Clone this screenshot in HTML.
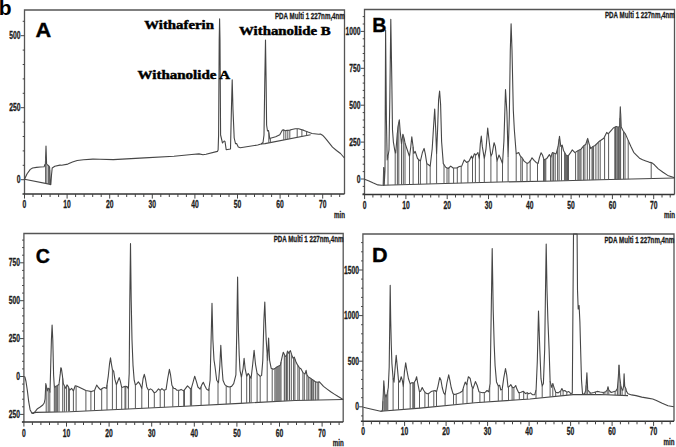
<!DOCTYPE html>
<html><head><meta charset="utf-8"><style>
html,body{margin:0;padding:0;background:#fff;width:676px;height:447px;overflow:hidden}
svg{display:block}
.n{font-family:"Liberation Sans",sans-serif;font-weight:bold;fill:#1a1a1a;stroke:#1a1a1a;stroke-width:0.3}
.L{font-family:"Liberation Sans",sans-serif;font-weight:bold;font-size:19.6px;fill:#000;stroke:#000;stroke-width:0.35}
.w{font-family:"Liberation Serif",serif;font-weight:bold;font-size:12.5px;fill:#000;stroke:#000;stroke-width:0.45}
.t{fill:none;stroke:#464646;stroke-width:1.1;stroke-linejoin:round}
.h{stroke:#5a5a5a;stroke-width:1}
</style></head><body>
<svg width="676" height="447" viewBox="0 0 676 447">
<text x="-1.2" y="14.9" style="font-family:'Liberation Sans',sans-serif;font-weight:bold;font-size:21px;fill:#000">b</text>
<path d="M24.5,194.0 V10.0 H344.5 V194.0" fill="none" stroke="#555" stroke-width="1.3"/>
<line x1="22.5" y1="194.0" x2="344.5" y2="194.0" stroke="#333" stroke-width="1.4"/>
<line x1="24.5" y1="194.0" x2="24.5" y2="198.6" stroke="#444" stroke-width="1"/>
<line x1="33.0" y1="194.0" x2="33.0" y2="197.0" stroke="#444" stroke-width="1"/>
<line x1="41.5" y1="194.0" x2="41.5" y2="197.0" stroke="#444" stroke-width="1"/>
<line x1="50.1" y1="194.0" x2="50.1" y2="197.0" stroke="#444" stroke-width="1"/>
<line x1="58.6" y1="194.0" x2="58.6" y2="197.0" stroke="#444" stroke-width="1"/>
<line x1="67.1" y1="194.0" x2="67.1" y2="198.6" stroke="#444" stroke-width="1"/>
<line x1="75.6" y1="194.0" x2="75.6" y2="197.0" stroke="#444" stroke-width="1"/>
<line x1="84.1" y1="194.0" x2="84.1" y2="197.0" stroke="#444" stroke-width="1"/>
<line x1="92.7" y1="194.0" x2="92.7" y2="197.0" stroke="#444" stroke-width="1"/>
<line x1="101.2" y1="194.0" x2="101.2" y2="197.0" stroke="#444" stroke-width="1"/>
<line x1="109.7" y1="194.0" x2="109.7" y2="198.6" stroke="#444" stroke-width="1"/>
<line x1="118.2" y1="194.0" x2="118.2" y2="197.0" stroke="#444" stroke-width="1"/>
<line x1="126.7" y1="194.0" x2="126.7" y2="197.0" stroke="#444" stroke-width="1"/>
<line x1="135.3" y1="194.0" x2="135.3" y2="197.0" stroke="#444" stroke-width="1"/>
<line x1="143.8" y1="194.0" x2="143.8" y2="197.0" stroke="#444" stroke-width="1"/>
<line x1="152.3" y1="194.0" x2="152.3" y2="198.6" stroke="#444" stroke-width="1"/>
<line x1="160.8" y1="194.0" x2="160.8" y2="197.0" stroke="#444" stroke-width="1"/>
<line x1="169.3" y1="194.0" x2="169.3" y2="197.0" stroke="#444" stroke-width="1"/>
<line x1="177.9" y1="194.0" x2="177.9" y2="197.0" stroke="#444" stroke-width="1"/>
<line x1="186.4" y1="194.0" x2="186.4" y2="197.0" stroke="#444" stroke-width="1"/>
<line x1="194.9" y1="194.0" x2="194.9" y2="198.6" stroke="#444" stroke-width="1"/>
<line x1="203.4" y1="194.0" x2="203.4" y2="197.0" stroke="#444" stroke-width="1"/>
<line x1="211.9" y1="194.0" x2="211.9" y2="197.0" stroke="#444" stroke-width="1"/>
<line x1="220.5" y1="194.0" x2="220.5" y2="197.0" stroke="#444" stroke-width="1"/>
<line x1="229.0" y1="194.0" x2="229.0" y2="197.0" stroke="#444" stroke-width="1"/>
<line x1="237.5" y1="194.0" x2="237.5" y2="198.6" stroke="#444" stroke-width="1"/>
<line x1="246.0" y1="194.0" x2="246.0" y2="197.0" stroke="#444" stroke-width="1"/>
<line x1="254.5" y1="194.0" x2="254.5" y2="197.0" stroke="#444" stroke-width="1"/>
<line x1="263.1" y1="194.0" x2="263.1" y2="197.0" stroke="#444" stroke-width="1"/>
<line x1="271.6" y1="194.0" x2="271.6" y2="197.0" stroke="#444" stroke-width="1"/>
<line x1="280.1" y1="194.0" x2="280.1" y2="198.6" stroke="#444" stroke-width="1"/>
<line x1="288.6" y1="194.0" x2="288.6" y2="197.0" stroke="#444" stroke-width="1"/>
<line x1="297.1" y1="194.0" x2="297.1" y2="197.0" stroke="#444" stroke-width="1"/>
<line x1="305.7" y1="194.0" x2="305.7" y2="197.0" stroke="#444" stroke-width="1"/>
<line x1="314.2" y1="194.0" x2="314.2" y2="197.0" stroke="#444" stroke-width="1"/>
<line x1="322.7" y1="194.0" x2="322.7" y2="198.6" stroke="#444" stroke-width="1"/>
<line x1="331.2" y1="194.0" x2="331.2" y2="197.0" stroke="#444" stroke-width="1"/>
<line x1="339.7" y1="194.0" x2="339.7" y2="197.0" stroke="#444" stroke-width="1"/>
<text x="22.62" y="208.00" class="n" font-size="10.4" textLength="3.75" lengthAdjust="spacingAndGlyphs">0</text>
<text x="63.35" y="208.00" class="n" font-size="10.4" textLength="7.50" lengthAdjust="spacingAndGlyphs">10</text>
<text x="105.95" y="208.00" class="n" font-size="10.4" textLength="7.50" lengthAdjust="spacingAndGlyphs">20</text>
<text x="148.55" y="208.00" class="n" font-size="10.4" textLength="7.50" lengthAdjust="spacingAndGlyphs">30</text>
<text x="191.15" y="208.00" class="n" font-size="10.4" textLength="7.50" lengthAdjust="spacingAndGlyphs">40</text>
<text x="233.75" y="208.00" class="n" font-size="10.4" textLength="7.50" lengthAdjust="spacingAndGlyphs">50</text>
<text x="276.35" y="208.00" class="n" font-size="10.4" textLength="7.50" lengthAdjust="spacingAndGlyphs">60</text>
<text x="318.95" y="208.00" class="n" font-size="10.4" textLength="7.50" lengthAdjust="spacingAndGlyphs">70</text>
<text x="334.00" y="217.80" class="n" font-size="9.3" textLength="11.00" lengthAdjust="spacingAndGlyphs">min</text>
<line x1="20.7" y1="179.7" x2="24.5" y2="179.7" stroke="#444" stroke-width="1"/>
<line x1="22.7" y1="165.3" x2="24.5" y2="165.3" stroke="#444" stroke-width="1"/>
<line x1="22.7" y1="150.9" x2="24.5" y2="150.9" stroke="#444" stroke-width="1"/>
<line x1="22.7" y1="136.5" x2="24.5" y2="136.5" stroke="#444" stroke-width="1"/>
<line x1="22.7" y1="122.1" x2="24.5" y2="122.1" stroke="#444" stroke-width="1"/>
<line x1="20.7" y1="107.7" x2="24.5" y2="107.7" stroke="#444" stroke-width="1"/>
<line x1="22.7" y1="93.3" x2="24.5" y2="93.3" stroke="#444" stroke-width="1"/>
<line x1="22.7" y1="78.9" x2="24.5" y2="78.9" stroke="#444" stroke-width="1"/>
<line x1="22.7" y1="64.5" x2="24.5" y2="64.5" stroke="#444" stroke-width="1"/>
<line x1="22.7" y1="50.1" x2="24.5" y2="50.1" stroke="#444" stroke-width="1"/>
<line x1="20.7" y1="35.7" x2="24.5" y2="35.7" stroke="#444" stroke-width="1"/>
<line x1="22.7" y1="21.3" x2="24.5" y2="21.3" stroke="#444" stroke-width="1"/>
<text x="16.85" y="183.30" class="n" font-size="10.4" textLength="3.75" lengthAdjust="spacingAndGlyphs">0</text>
<text x="9.35" y="111.30" class="n" font-size="10.4" textLength="11.25" lengthAdjust="spacingAndGlyphs">250</text>
<text x="9.35" y="39.30" class="n" font-size="10.4" textLength="11.25" lengthAdjust="spacingAndGlyphs">500</text>
<text x="275.00" y="18.80" class="n" font-size="9.2" textLength="69.80" lengthAdjust="spacingAndGlyphs">PDA Multi 1 227nm,4nm</text>
<text x="35.6" y="36.8" class="L" textLength="15.7" lengthAdjust="spacingAndGlyphs">A</text>
<path d="M364.5,194.5 V9.5 H674.5 V194.5" fill="none" stroke="#555" stroke-width="1.3"/>
<line x1="362.5" y1="194.5" x2="674.5" y2="194.5" stroke="#333" stroke-width="1.4"/>
<line x1="364.6" y1="194.5" x2="364.6" y2="199.1" stroke="#444" stroke-width="1"/>
<line x1="372.9" y1="194.5" x2="372.9" y2="197.5" stroke="#444" stroke-width="1"/>
<line x1="381.1" y1="194.5" x2="381.1" y2="197.5" stroke="#444" stroke-width="1"/>
<line x1="389.4" y1="194.5" x2="389.4" y2="197.5" stroke="#444" stroke-width="1"/>
<line x1="397.6" y1="194.5" x2="397.6" y2="197.5" stroke="#444" stroke-width="1"/>
<line x1="405.9" y1="194.5" x2="405.9" y2="199.1" stroke="#444" stroke-width="1"/>
<line x1="414.2" y1="194.5" x2="414.2" y2="197.5" stroke="#444" stroke-width="1"/>
<line x1="422.4" y1="194.5" x2="422.4" y2="197.5" stroke="#444" stroke-width="1"/>
<line x1="430.7" y1="194.5" x2="430.7" y2="197.5" stroke="#444" stroke-width="1"/>
<line x1="438.9" y1="194.5" x2="438.9" y2="197.5" stroke="#444" stroke-width="1"/>
<line x1="447.2" y1="194.5" x2="447.2" y2="199.1" stroke="#444" stroke-width="1"/>
<line x1="455.5" y1="194.5" x2="455.5" y2="197.5" stroke="#444" stroke-width="1"/>
<line x1="463.7" y1="194.5" x2="463.7" y2="197.5" stroke="#444" stroke-width="1"/>
<line x1="472.0" y1="194.5" x2="472.0" y2="197.5" stroke="#444" stroke-width="1"/>
<line x1="480.2" y1="194.5" x2="480.2" y2="197.5" stroke="#444" stroke-width="1"/>
<line x1="488.5" y1="194.5" x2="488.5" y2="199.1" stroke="#444" stroke-width="1"/>
<line x1="496.8" y1="194.5" x2="496.8" y2="197.5" stroke="#444" stroke-width="1"/>
<line x1="505.0" y1="194.5" x2="505.0" y2="197.5" stroke="#444" stroke-width="1"/>
<line x1="513.3" y1="194.5" x2="513.3" y2="197.5" stroke="#444" stroke-width="1"/>
<line x1="521.5" y1="194.5" x2="521.5" y2="197.5" stroke="#444" stroke-width="1"/>
<line x1="529.8" y1="194.5" x2="529.8" y2="199.1" stroke="#444" stroke-width="1"/>
<line x1="538.1" y1="194.5" x2="538.1" y2="197.5" stroke="#444" stroke-width="1"/>
<line x1="546.3" y1="194.5" x2="546.3" y2="197.5" stroke="#444" stroke-width="1"/>
<line x1="554.6" y1="194.5" x2="554.6" y2="197.5" stroke="#444" stroke-width="1"/>
<line x1="562.8" y1="194.5" x2="562.8" y2="197.5" stroke="#444" stroke-width="1"/>
<line x1="571.1" y1="194.5" x2="571.1" y2="199.1" stroke="#444" stroke-width="1"/>
<line x1="579.4" y1="194.5" x2="579.4" y2="197.5" stroke="#444" stroke-width="1"/>
<line x1="587.6" y1="194.5" x2="587.6" y2="197.5" stroke="#444" stroke-width="1"/>
<line x1="595.9" y1="194.5" x2="595.9" y2="197.5" stroke="#444" stroke-width="1"/>
<line x1="604.1" y1="194.5" x2="604.1" y2="197.5" stroke="#444" stroke-width="1"/>
<line x1="612.4" y1="194.5" x2="612.4" y2="199.1" stroke="#444" stroke-width="1"/>
<line x1="620.7" y1="194.5" x2="620.7" y2="197.5" stroke="#444" stroke-width="1"/>
<line x1="628.9" y1="194.5" x2="628.9" y2="197.5" stroke="#444" stroke-width="1"/>
<line x1="637.2" y1="194.5" x2="637.2" y2="197.5" stroke="#444" stroke-width="1"/>
<line x1="645.4" y1="194.5" x2="645.4" y2="197.5" stroke="#444" stroke-width="1"/>
<line x1="653.7" y1="194.5" x2="653.7" y2="199.1" stroke="#444" stroke-width="1"/>
<line x1="662.0" y1="194.5" x2="662.0" y2="197.5" stroke="#444" stroke-width="1"/>
<line x1="670.2" y1="194.5" x2="670.2" y2="197.5" stroke="#444" stroke-width="1"/>
<text x="362.73" y="208.50" class="n" font-size="10.4" textLength="3.75" lengthAdjust="spacingAndGlyphs">0</text>
<text x="402.15" y="208.50" class="n" font-size="10.4" textLength="7.50" lengthAdjust="spacingAndGlyphs">10</text>
<text x="443.45" y="208.50" class="n" font-size="10.4" textLength="7.50" lengthAdjust="spacingAndGlyphs">20</text>
<text x="484.75" y="208.50" class="n" font-size="10.4" textLength="7.50" lengthAdjust="spacingAndGlyphs">30</text>
<text x="526.05" y="208.50" class="n" font-size="10.4" textLength="7.50" lengthAdjust="spacingAndGlyphs">40</text>
<text x="567.35" y="208.50" class="n" font-size="10.4" textLength="7.50" lengthAdjust="spacingAndGlyphs">50</text>
<text x="608.65" y="208.50" class="n" font-size="10.4" textLength="7.50" lengthAdjust="spacingAndGlyphs">60</text>
<text x="649.95" y="208.50" class="n" font-size="10.4" textLength="7.50" lengthAdjust="spacingAndGlyphs">70</text>
<text x="664.00" y="218.30" class="n" font-size="9.3" textLength="11.00" lengthAdjust="spacingAndGlyphs">min</text>
<line x1="362.7" y1="193.8" x2="364.5" y2="193.8" stroke="#444" stroke-width="1"/>
<line x1="362.7" y1="186.4" x2="364.5" y2="186.4" stroke="#444" stroke-width="1"/>
<line x1="360.7" y1="179.0" x2="364.5" y2="179.0" stroke="#444" stroke-width="1"/>
<line x1="362.7" y1="171.6" x2="364.5" y2="171.6" stroke="#444" stroke-width="1"/>
<line x1="362.7" y1="164.2" x2="364.5" y2="164.2" stroke="#444" stroke-width="1"/>
<line x1="362.7" y1="156.9" x2="364.5" y2="156.9" stroke="#444" stroke-width="1"/>
<line x1="362.7" y1="149.5" x2="364.5" y2="149.5" stroke="#444" stroke-width="1"/>
<line x1="360.7" y1="142.1" x2="364.5" y2="142.1" stroke="#444" stroke-width="1"/>
<line x1="362.7" y1="134.7" x2="364.5" y2="134.7" stroke="#444" stroke-width="1"/>
<line x1="362.7" y1="127.3" x2="364.5" y2="127.3" stroke="#444" stroke-width="1"/>
<line x1="362.7" y1="120.0" x2="364.5" y2="120.0" stroke="#444" stroke-width="1"/>
<line x1="362.7" y1="112.6" x2="364.5" y2="112.6" stroke="#444" stroke-width="1"/>
<line x1="360.7" y1="105.2" x2="364.5" y2="105.2" stroke="#444" stroke-width="1"/>
<line x1="362.7" y1="97.8" x2="364.5" y2="97.8" stroke="#444" stroke-width="1"/>
<line x1="362.7" y1="90.4" x2="364.5" y2="90.4" stroke="#444" stroke-width="1"/>
<line x1="362.7" y1="83.1" x2="364.5" y2="83.1" stroke="#444" stroke-width="1"/>
<line x1="362.7" y1="75.7" x2="364.5" y2="75.7" stroke="#444" stroke-width="1"/>
<line x1="360.7" y1="68.3" x2="364.5" y2="68.3" stroke="#444" stroke-width="1"/>
<line x1="362.7" y1="60.9" x2="364.5" y2="60.9" stroke="#444" stroke-width="1"/>
<line x1="362.7" y1="53.5" x2="364.5" y2="53.5" stroke="#444" stroke-width="1"/>
<line x1="362.7" y1="46.2" x2="364.5" y2="46.2" stroke="#444" stroke-width="1"/>
<line x1="362.7" y1="38.8" x2="364.5" y2="38.8" stroke="#444" stroke-width="1"/>
<line x1="360.7" y1="31.4" x2="364.5" y2="31.4" stroke="#444" stroke-width="1"/>
<line x1="362.7" y1="24.0" x2="364.5" y2="24.0" stroke="#444" stroke-width="1"/>
<line x1="362.7" y1="16.6" x2="364.5" y2="16.6" stroke="#444" stroke-width="1"/>
<text x="356.85" y="182.60" class="n" font-size="10.4" textLength="3.75" lengthAdjust="spacingAndGlyphs">0</text>
<text x="349.35" y="145.70" class="n" font-size="10.4" textLength="11.25" lengthAdjust="spacingAndGlyphs">250</text>
<text x="349.35" y="108.80" class="n" font-size="10.4" textLength="11.25" lengthAdjust="spacingAndGlyphs">500</text>
<text x="349.35" y="71.90" class="n" font-size="10.4" textLength="11.25" lengthAdjust="spacingAndGlyphs">750</text>
<text x="345.60" y="35.00" class="n" font-size="10.4" textLength="15.00" lengthAdjust="spacingAndGlyphs">1000</text>
<text x="605.00" y="18.30" class="n" font-size="9.2" textLength="69.80" lengthAdjust="spacingAndGlyphs">PDA Multi 1 227nm,4nm</text>
<text x="372.2" y="31.9" class="L">B</text>
<path d="M23.9,422.0 V233.5 H343.2 V422.0" fill="none" stroke="#555" stroke-width="1.3"/>
<line x1="21.9" y1="422.0" x2="343.2" y2="422.0" stroke="#333" stroke-width="1.4"/>
<line x1="23.9" y1="422.0" x2="23.9" y2="426.6" stroke="#444" stroke-width="1"/>
<line x1="32.4" y1="422.0" x2="32.4" y2="425.0" stroke="#444" stroke-width="1"/>
<line x1="40.9" y1="422.0" x2="40.9" y2="425.0" stroke="#444" stroke-width="1"/>
<line x1="49.5" y1="422.0" x2="49.5" y2="425.0" stroke="#444" stroke-width="1"/>
<line x1="58.0" y1="422.0" x2="58.0" y2="425.0" stroke="#444" stroke-width="1"/>
<line x1="66.5" y1="422.0" x2="66.5" y2="426.6" stroke="#444" stroke-width="1"/>
<line x1="75.0" y1="422.0" x2="75.0" y2="425.0" stroke="#444" stroke-width="1"/>
<line x1="83.5" y1="422.0" x2="83.5" y2="425.0" stroke="#444" stroke-width="1"/>
<line x1="92.1" y1="422.0" x2="92.1" y2="425.0" stroke="#444" stroke-width="1"/>
<line x1="100.6" y1="422.0" x2="100.6" y2="425.0" stroke="#444" stroke-width="1"/>
<line x1="109.1" y1="422.0" x2="109.1" y2="426.6" stroke="#444" stroke-width="1"/>
<line x1="117.6" y1="422.0" x2="117.6" y2="425.0" stroke="#444" stroke-width="1"/>
<line x1="126.1" y1="422.0" x2="126.1" y2="425.0" stroke="#444" stroke-width="1"/>
<line x1="134.7" y1="422.0" x2="134.7" y2="425.0" stroke="#444" stroke-width="1"/>
<line x1="143.2" y1="422.0" x2="143.2" y2="425.0" stroke="#444" stroke-width="1"/>
<line x1="151.7" y1="422.0" x2="151.7" y2="426.6" stroke="#444" stroke-width="1"/>
<line x1="160.2" y1="422.0" x2="160.2" y2="425.0" stroke="#444" stroke-width="1"/>
<line x1="168.7" y1="422.0" x2="168.7" y2="425.0" stroke="#444" stroke-width="1"/>
<line x1="177.3" y1="422.0" x2="177.3" y2="425.0" stroke="#444" stroke-width="1"/>
<line x1="185.8" y1="422.0" x2="185.8" y2="425.0" stroke="#444" stroke-width="1"/>
<line x1="194.3" y1="422.0" x2="194.3" y2="426.6" stroke="#444" stroke-width="1"/>
<line x1="202.8" y1="422.0" x2="202.8" y2="425.0" stroke="#444" stroke-width="1"/>
<line x1="211.3" y1="422.0" x2="211.3" y2="425.0" stroke="#444" stroke-width="1"/>
<line x1="219.9" y1="422.0" x2="219.9" y2="425.0" stroke="#444" stroke-width="1"/>
<line x1="228.4" y1="422.0" x2="228.4" y2="425.0" stroke="#444" stroke-width="1"/>
<line x1="236.9" y1="422.0" x2="236.9" y2="426.6" stroke="#444" stroke-width="1"/>
<line x1="245.4" y1="422.0" x2="245.4" y2="425.0" stroke="#444" stroke-width="1"/>
<line x1="253.9" y1="422.0" x2="253.9" y2="425.0" stroke="#444" stroke-width="1"/>
<line x1="262.5" y1="422.0" x2="262.5" y2="425.0" stroke="#444" stroke-width="1"/>
<line x1="271.0" y1="422.0" x2="271.0" y2="425.0" stroke="#444" stroke-width="1"/>
<line x1="279.5" y1="422.0" x2="279.5" y2="426.6" stroke="#444" stroke-width="1"/>
<line x1="288.0" y1="422.0" x2="288.0" y2="425.0" stroke="#444" stroke-width="1"/>
<line x1="296.5" y1="422.0" x2="296.5" y2="425.0" stroke="#444" stroke-width="1"/>
<line x1="305.1" y1="422.0" x2="305.1" y2="425.0" stroke="#444" stroke-width="1"/>
<line x1="313.6" y1="422.0" x2="313.6" y2="425.0" stroke="#444" stroke-width="1"/>
<line x1="322.1" y1="422.0" x2="322.1" y2="426.6" stroke="#444" stroke-width="1"/>
<line x1="330.6" y1="422.0" x2="330.6" y2="425.0" stroke="#444" stroke-width="1"/>
<line x1="339.1" y1="422.0" x2="339.1" y2="425.0" stroke="#444" stroke-width="1"/>
<text x="22.02" y="436.90" class="n" font-size="10.4" textLength="3.75" lengthAdjust="spacingAndGlyphs">0</text>
<text x="62.75" y="436.90" class="n" font-size="10.4" textLength="7.50" lengthAdjust="spacingAndGlyphs">10</text>
<text x="105.35" y="436.90" class="n" font-size="10.4" textLength="7.50" lengthAdjust="spacingAndGlyphs">20</text>
<text x="147.95" y="436.90" class="n" font-size="10.4" textLength="7.50" lengthAdjust="spacingAndGlyphs">30</text>
<text x="190.55" y="436.90" class="n" font-size="10.4" textLength="7.50" lengthAdjust="spacingAndGlyphs">40</text>
<text x="233.15" y="436.90" class="n" font-size="10.4" textLength="7.50" lengthAdjust="spacingAndGlyphs">50</text>
<text x="275.75" y="436.90" class="n" font-size="10.4" textLength="7.50" lengthAdjust="spacingAndGlyphs">60</text>
<text x="318.35" y="436.90" class="n" font-size="10.4" textLength="7.50" lengthAdjust="spacingAndGlyphs">70</text>
<text x="332.70" y="445.80" class="n" font-size="9.3" textLength="11.00" lengthAdjust="spacingAndGlyphs">min</text>
<line x1="22.1" y1="422.0" x2="23.9" y2="422.0" stroke="#444" stroke-width="1"/>
<line x1="20.1" y1="414.4" x2="23.9" y2="414.4" stroke="#444" stroke-width="1"/>
<line x1="22.1" y1="406.8" x2="23.9" y2="406.8" stroke="#444" stroke-width="1"/>
<line x1="22.1" y1="399.2" x2="23.9" y2="399.2" stroke="#444" stroke-width="1"/>
<line x1="22.1" y1="391.7" x2="23.9" y2="391.7" stroke="#444" stroke-width="1"/>
<line x1="22.1" y1="384.1" x2="23.9" y2="384.1" stroke="#444" stroke-width="1"/>
<line x1="20.1" y1="376.5" x2="23.9" y2="376.5" stroke="#444" stroke-width="1"/>
<line x1="22.1" y1="368.9" x2="23.9" y2="368.9" stroke="#444" stroke-width="1"/>
<line x1="22.1" y1="361.3" x2="23.9" y2="361.3" stroke="#444" stroke-width="1"/>
<line x1="22.1" y1="353.8" x2="23.9" y2="353.8" stroke="#444" stroke-width="1"/>
<line x1="22.1" y1="346.2" x2="23.9" y2="346.2" stroke="#444" stroke-width="1"/>
<line x1="20.1" y1="338.6" x2="23.9" y2="338.6" stroke="#444" stroke-width="1"/>
<line x1="22.1" y1="331.0" x2="23.9" y2="331.0" stroke="#444" stroke-width="1"/>
<line x1="22.1" y1="323.4" x2="23.9" y2="323.4" stroke="#444" stroke-width="1"/>
<line x1="22.1" y1="315.9" x2="23.9" y2="315.9" stroke="#444" stroke-width="1"/>
<line x1="22.1" y1="308.3" x2="23.9" y2="308.3" stroke="#444" stroke-width="1"/>
<line x1="20.1" y1="300.7" x2="23.9" y2="300.7" stroke="#444" stroke-width="1"/>
<line x1="22.1" y1="293.1" x2="23.9" y2="293.1" stroke="#444" stroke-width="1"/>
<line x1="22.1" y1="285.5" x2="23.9" y2="285.5" stroke="#444" stroke-width="1"/>
<line x1="22.1" y1="278.0" x2="23.9" y2="278.0" stroke="#444" stroke-width="1"/>
<line x1="22.1" y1="270.4" x2="23.9" y2="270.4" stroke="#444" stroke-width="1"/>
<line x1="20.1" y1="262.8" x2="23.9" y2="262.8" stroke="#444" stroke-width="1"/>
<line x1="22.1" y1="255.2" x2="23.9" y2="255.2" stroke="#444" stroke-width="1"/>
<line x1="22.1" y1="247.6" x2="23.9" y2="247.6" stroke="#444" stroke-width="1"/>
<line x1="22.1" y1="240.1" x2="23.9" y2="240.1" stroke="#444" stroke-width="1"/>
<text x="8.75" y="418.00" class="n" font-size="10.4" textLength="11.25" lengthAdjust="spacingAndGlyphs">250</text>
<text x="16.25" y="380.10" class="n" font-size="10.4" textLength="3.75" lengthAdjust="spacingAndGlyphs">0</text>
<text x="8.75" y="342.20" class="n" font-size="10.4" textLength="11.25" lengthAdjust="spacingAndGlyphs">250</text>
<text x="8.75" y="304.30" class="n" font-size="10.4" textLength="11.25" lengthAdjust="spacingAndGlyphs">500</text>
<text x="8.75" y="266.40" class="n" font-size="10.4" textLength="11.25" lengthAdjust="spacingAndGlyphs">750</text>
<text x="273.70" y="242.30" class="n" font-size="9.2" textLength="69.80" lengthAdjust="spacingAndGlyphs">PDA Multi 1 227nm,4nm</text>
<text x="35.8" y="262.7" class="L">C</text>
<path d="M362.9,421.3 V234.0 H674.0 V421.3" fill="none" stroke="#555" stroke-width="1.3"/>
<line x1="360.9" y1="421.3" x2="674.0" y2="421.3" stroke="#333" stroke-width="1.4"/>
<line x1="363.1" y1="421.3" x2="363.1" y2="425.9" stroke="#444" stroke-width="1"/>
<line x1="371.4" y1="421.3" x2="371.4" y2="424.3" stroke="#444" stroke-width="1"/>
<line x1="379.7" y1="421.3" x2="379.7" y2="424.3" stroke="#444" stroke-width="1"/>
<line x1="388.0" y1="421.3" x2="388.0" y2="424.3" stroke="#444" stroke-width="1"/>
<line x1="396.3" y1="421.3" x2="396.3" y2="424.3" stroke="#444" stroke-width="1"/>
<line x1="404.6" y1="421.3" x2="404.6" y2="425.9" stroke="#444" stroke-width="1"/>
<line x1="412.9" y1="421.3" x2="412.9" y2="424.3" stroke="#444" stroke-width="1"/>
<line x1="421.2" y1="421.3" x2="421.2" y2="424.3" stroke="#444" stroke-width="1"/>
<line x1="429.5" y1="421.3" x2="429.5" y2="424.3" stroke="#444" stroke-width="1"/>
<line x1="437.8" y1="421.3" x2="437.8" y2="424.3" stroke="#444" stroke-width="1"/>
<line x1="446.1" y1="421.3" x2="446.1" y2="425.9" stroke="#444" stroke-width="1"/>
<line x1="454.4" y1="421.3" x2="454.4" y2="424.3" stroke="#444" stroke-width="1"/>
<line x1="462.7" y1="421.3" x2="462.7" y2="424.3" stroke="#444" stroke-width="1"/>
<line x1="471.0" y1="421.3" x2="471.0" y2="424.3" stroke="#444" stroke-width="1"/>
<line x1="479.3" y1="421.3" x2="479.3" y2="424.3" stroke="#444" stroke-width="1"/>
<line x1="487.6" y1="421.3" x2="487.6" y2="425.9" stroke="#444" stroke-width="1"/>
<line x1="495.9" y1="421.3" x2="495.9" y2="424.3" stroke="#444" stroke-width="1"/>
<line x1="504.2" y1="421.3" x2="504.2" y2="424.3" stroke="#444" stroke-width="1"/>
<line x1="512.5" y1="421.3" x2="512.5" y2="424.3" stroke="#444" stroke-width="1"/>
<line x1="520.8" y1="421.3" x2="520.8" y2="424.3" stroke="#444" stroke-width="1"/>
<line x1="529.1" y1="421.3" x2="529.1" y2="425.9" stroke="#444" stroke-width="1"/>
<line x1="537.4" y1="421.3" x2="537.4" y2="424.3" stroke="#444" stroke-width="1"/>
<line x1="545.7" y1="421.3" x2="545.7" y2="424.3" stroke="#444" stroke-width="1"/>
<line x1="554.0" y1="421.3" x2="554.0" y2="424.3" stroke="#444" stroke-width="1"/>
<line x1="562.3" y1="421.3" x2="562.3" y2="424.3" stroke="#444" stroke-width="1"/>
<line x1="570.6" y1="421.3" x2="570.6" y2="425.9" stroke="#444" stroke-width="1"/>
<line x1="578.9" y1="421.3" x2="578.9" y2="424.3" stroke="#444" stroke-width="1"/>
<line x1="587.2" y1="421.3" x2="587.2" y2="424.3" stroke="#444" stroke-width="1"/>
<line x1="595.5" y1="421.3" x2="595.5" y2="424.3" stroke="#444" stroke-width="1"/>
<line x1="603.8" y1="421.3" x2="603.8" y2="424.3" stroke="#444" stroke-width="1"/>
<line x1="612.1" y1="421.3" x2="612.1" y2="425.9" stroke="#444" stroke-width="1"/>
<line x1="620.4" y1="421.3" x2="620.4" y2="424.3" stroke="#444" stroke-width="1"/>
<line x1="628.7" y1="421.3" x2="628.7" y2="424.3" stroke="#444" stroke-width="1"/>
<line x1="637.0" y1="421.3" x2="637.0" y2="424.3" stroke="#444" stroke-width="1"/>
<line x1="645.3" y1="421.3" x2="645.3" y2="424.3" stroke="#444" stroke-width="1"/>
<line x1="653.6" y1="421.3" x2="653.6" y2="425.9" stroke="#444" stroke-width="1"/>
<line x1="661.9" y1="421.3" x2="661.9" y2="424.3" stroke="#444" stroke-width="1"/>
<line x1="670.2" y1="421.3" x2="670.2" y2="424.3" stroke="#444" stroke-width="1"/>
<text x="361.23" y="435.30" class="n" font-size="10.4" textLength="3.75" lengthAdjust="spacingAndGlyphs">0</text>
<text x="400.85" y="435.30" class="n" font-size="10.4" textLength="7.50" lengthAdjust="spacingAndGlyphs">10</text>
<text x="442.35" y="435.30" class="n" font-size="10.4" textLength="7.50" lengthAdjust="spacingAndGlyphs">20</text>
<text x="483.85" y="435.30" class="n" font-size="10.4" textLength="7.50" lengthAdjust="spacingAndGlyphs">30</text>
<text x="525.35" y="435.30" class="n" font-size="10.4" textLength="7.50" lengthAdjust="spacingAndGlyphs">40</text>
<text x="566.85" y="435.30" class="n" font-size="10.4" textLength="7.50" lengthAdjust="spacingAndGlyphs">50</text>
<text x="608.35" y="435.30" class="n" font-size="10.4" textLength="7.50" lengthAdjust="spacingAndGlyphs">60</text>
<text x="649.85" y="435.30" class="n" font-size="10.4" textLength="7.50" lengthAdjust="spacingAndGlyphs">70</text>
<text x="663.50" y="445.10" class="n" font-size="9.3" textLength="11.00" lengthAdjust="spacingAndGlyphs">min</text>
<line x1="361.1" y1="415.9" x2="362.9" y2="415.9" stroke="#444" stroke-width="1"/>
<line x1="359.1" y1="406.8" x2="362.9" y2="406.8" stroke="#444" stroke-width="1"/>
<line x1="361.1" y1="397.7" x2="362.9" y2="397.7" stroke="#444" stroke-width="1"/>
<line x1="361.1" y1="388.6" x2="362.9" y2="388.6" stroke="#444" stroke-width="1"/>
<line x1="361.1" y1="379.4" x2="362.9" y2="379.4" stroke="#444" stroke-width="1"/>
<line x1="361.1" y1="370.3" x2="362.9" y2="370.3" stroke="#444" stroke-width="1"/>
<line x1="359.1" y1="361.2" x2="362.9" y2="361.2" stroke="#444" stroke-width="1"/>
<line x1="361.1" y1="352.1" x2="362.9" y2="352.1" stroke="#444" stroke-width="1"/>
<line x1="361.1" y1="343.0" x2="362.9" y2="343.0" stroke="#444" stroke-width="1"/>
<line x1="361.1" y1="333.8" x2="362.9" y2="333.8" stroke="#444" stroke-width="1"/>
<line x1="361.1" y1="324.7" x2="362.9" y2="324.7" stroke="#444" stroke-width="1"/>
<line x1="359.1" y1="315.6" x2="362.9" y2="315.6" stroke="#444" stroke-width="1"/>
<line x1="361.1" y1="306.5" x2="362.9" y2="306.5" stroke="#444" stroke-width="1"/>
<line x1="361.1" y1="297.4" x2="362.9" y2="297.4" stroke="#444" stroke-width="1"/>
<line x1="361.1" y1="288.2" x2="362.9" y2="288.2" stroke="#444" stroke-width="1"/>
<line x1="361.1" y1="279.1" x2="362.9" y2="279.1" stroke="#444" stroke-width="1"/>
<line x1="359.1" y1="270.0" x2="362.9" y2="270.0" stroke="#444" stroke-width="1"/>
<line x1="361.1" y1="260.9" x2="362.9" y2="260.9" stroke="#444" stroke-width="1"/>
<line x1="361.1" y1="251.8" x2="362.9" y2="251.8" stroke="#444" stroke-width="1"/>
<line x1="361.1" y1="242.6" x2="362.9" y2="242.6" stroke="#444" stroke-width="1"/>
<text x="355.25" y="410.40" class="n" font-size="10.4" textLength="3.75" lengthAdjust="spacingAndGlyphs">0</text>
<text x="347.75" y="364.80" class="n" font-size="10.4" textLength="11.25" lengthAdjust="spacingAndGlyphs">500</text>
<text x="344.00" y="319.20" class="n" font-size="10.4" textLength="15.00" lengthAdjust="spacingAndGlyphs">1000</text>
<text x="344.00" y="273.60" class="n" font-size="10.4" textLength="15.00" lengthAdjust="spacingAndGlyphs">1500</text>
<text x="604.50" y="242.80" class="n" font-size="9.2" textLength="69.80" lengthAdjust="spacingAndGlyphs">PDA Multi 1 227nm,4nm</text>
<text x="372.0" y="262.4" class="L" textLength="15.6" lengthAdjust="spacingAndGlyphs">D</text>
<path class="t" d="M24.5,179.3 L27.1,173.8 L30.3,169.4 L32.6,168.0 L36.5,167.4 L40.4,167.0 L44.1,166.8 L44.9,164.4 L45.4,164.2 L46.0,146.0 L46.6,164.0 L47.5,165.0 L48.5,165.5 L49.6,167.0 L50.2,184.5 L50.8,184.7 L51.5,175.0 L52.2,168.0 L54.8,166.3 L60.0,165.1 L61.6,165.3 L67.8,164.1 L72.5,162.1 L77.2,160.5 L83.5,159.7 L92.9,159.1 L100.0,159.2 L113.3,159.6 L144.4,157.9 L174.0,156.3 L191.7,154.5 L199.0,153.9 L203.0,154.8 L206.0,154.3 L217.4,151.4 L218.1,150.0 L218.6,135.0 L219.2,40.0 L219.6,18.9 L220.0,40.0 L220.6,135.0 L222.5,143.0 L224.2,141.0 L225.0,141.5 L226.2,149.7 L230.5,149.0 L231.4,110.0 L232.2,79.8 L233.0,110.0 L234.2,138.0 L235.5,143.6 L236.6,143.6 L238.3,147.0 L240.3,147.7 L257.7,145.0 L261.0,144.0 L263.0,142.5 L264.0,135.0 L264.8,80.0 L265.5,40.0 L266.1,80.0 L266.6,125.0 L267.5,131.0 L268.5,130.5 L269.2,135.0 L269.8,138.9 L270.4,138.2 L275.7,136.8 L279.8,134.8 L282.4,130.1 L283.8,129.9 L285.1,130.8 L287.1,130.4 L289.8,130.1 L291.8,129.5 L295.2,128.8 L298.6,128.8 L303.9,130.4 L308.0,132.1 L312.0,133.5 L318.7,134.2 L320.4,134.1 L322.5,135.2 L324.4,137.2 L326.5,139.6 L328.5,142.2 L332.5,147.2 L336.5,150.5 L340.5,153.5 L344.4,158.0"/>
<path class="t" d="M24.5,179.3 L50.5,184.4"/>
<path class="t" d="M261.0,144.0 L265.0,143.6 L310.6,134.8"/>
<line class="h" x1="45.6" y1="158.1" x2="45.6" y2="183.4"/>
<line class="h" x1="46.9" y1="164.3" x2="46.9" y2="183.7"/>
<line class="h" x1="48.6" y1="165.6" x2="48.6" y2="184.0"/>
<line class="h" x1="49.7" y1="169.9" x2="49.7" y2="184.2"/>
<line class="h" x1="268.8" y1="132.4" x2="268.8" y2="142.9"/>
<line class="h" x1="270.4" y1="138.2" x2="270.4" y2="142.6"/>
<line class="h" x1="283.8" y1="129.9" x2="283.8" y2="140.0"/>
<line class="h" x1="285.8" y1="130.7" x2="285.8" y2="139.6"/>
<line class="h" x1="287.8" y1="130.3" x2="287.8" y2="139.2"/>
<line class="h" x1="289.8" y1="130.1" x2="289.8" y2="138.8"/>
<line class="h" x1="297.2" y1="128.8" x2="297.2" y2="137.4"/>
<line class="h" x1="301.9" y1="129.8" x2="301.9" y2="136.5"/>
<line class="h" x1="306.6" y1="131.5" x2="306.6" y2="135.6"/>
<text x="144.3" y="28.8" class="w" textLength="69.6" lengthAdjust="spacingAndGlyphs">Withaferin</text>
<text x="137.5" y="78.8" class="w" textLength="92.7" lengthAdjust="spacingAndGlyphs">Withanolide A</text>
<text x="239" y="34.8" class="w" textLength="91.7" lengthAdjust="spacingAndGlyphs">Withanolide B</text>
<path class="t" d="M364.5,179.2 L369.0,181.0 L373.4,183.1 L377.9,184.9 L381.5,185.3 L383.2,185.3 L383.7,167.6 L384.2,185.0 L385.0,170.0 L385.6,30.0 L386.4,120.0 L387.2,160.0 L388.0,156.5 L389.0,150.0 L389.8,100.0 L390.8,19.3 L391.8,80.0 L392.5,130.0 L393.4,142.2 L395.2,153.0 L395.7,153.0 L397.9,127.0 L399.3,119.8 L400.2,131.5 L401.5,144.0 L402.9,134.2 L404.2,138.6 L405.0,143.1 L406.8,148.5 L409.5,156.5 L410.8,146.7 L411.8,136.8 L413.0,146.0 L413.8,153.5 L415.2,151.4 L417.5,158.5 L420.4,161.1 L422.4,152.5 L424.1,148.4 L425.3,153.8 L426.8,163.6 L428.5,164.8 L430.2,166.1 L432.2,148.8 L433.4,129.2 L434.7,109.0 L435.7,129.2 L436.6,153.8 L437.6,129.2 L438.6,99.7 L439.6,91.1 L440.6,104.6 L441.6,141.5 L443.3,163.6 L445.7,167.3 L448.2,168.5 L450.7,166.1 L453.1,168.0 L456.8,168.0 L459.3,166.5 L461.7,166.1 L464.2,159.9 L466.6,162.4 L469.1,161.1 L471.5,156.0 L472.5,158.7 L474.4,153.8 L476.1,155.0 L477.9,152.5 L479.3,158.7 L480.3,143.9 L481.3,136.1 L482.3,146.4 L484.3,158.7 L486.0,148.8 L487.7,128.0 L489.2,141.5 L490.9,156.2 L492.1,153.8 L494.1,142.7 L495.3,146.4 L497.0,161.1 L499.0,155.0 L500.7,158.7 L502.5,163.6 L503.9,141.5 L504.9,109.5 L505.5,89.5 L506.9,112.0 L508.1,156.2 L509.3,116.9 L510.3,50.0 L511.1,23.7 L512.0,50.0 L513.3,110.0 L514.3,129.2 L516.2,153.8 L518.7,152.5 L520.4,156.2 L522.4,158.2 L524.1,161.1 L527.0,163.4 L529.0,162.4 L530.6,160.4 L532.0,157.8 L534.1,160.4 L536.1,162.4 L538.1,163.4 L539.5,157.4 L541.1,152.7 L542.5,155.0 L544.0,159.9 L546.7,158.6 L549.4,154.6 L550.8,157.3 L552.4,152.6 L554.5,153.2 L556.1,153.9 L558.1,146.5 L559.5,136.4 L560.8,146.5 L562.2,145.2 L563.5,150.5 L566.2,155.2 L568.2,155.9 L570.2,153.2 L572.3,149.9 L574.9,152.6 L578.3,150.5 L581.0,149.2 L583.7,145.8 L585.7,144.5 L587.7,138.4 L589.1,143.8 L590.7,148.6 L593.0,146.4 L595.1,145.5 L598.7,141.8 L603.8,138.2 L606.7,132.4 L608.2,133.8 L611.3,130.3 L613.3,128.0 L616.2,126.6 L618.4,127.3 L619.6,126.5 L620.3,106.8 L621.2,127.0 L622.8,130.2 L625.7,134.6 L628.2,140.4 L630.8,146.2 L633.7,152.3 L636.4,155.1 L639.5,158.2 L642.6,159.8 L645.8,161.0 L648.9,162.1 L652.0,162.9 L654.4,164.8 L658.3,168.9 L663.0,172.3 L667.7,175.4 L672.4,177.0 L674.5,177.8"/>
<path class="t" d="M383.0,185.3 L445.0,183.5 L500.0,182.0 L555.0,181.0 L600.0,179.8 L674.5,178.0"/>
<line class="h" x1="383.7" y1="167.6" x2="383.7" y2="185.3"/>
<line class="h" x1="388.0" y1="156.5" x2="388.0" y2="185.2"/>
<line class="h" x1="395.2" y1="153.0" x2="395.2" y2="184.9"/>
<line class="h" x1="397.4" y1="132.9" x2="397.4" y2="184.9"/>
<line class="h" x1="398.8" y1="122.4" x2="398.8" y2="184.8"/>
<line class="h" x1="401.5" y1="144.0" x2="401.5" y2="184.8"/>
<line class="h" x1="403.3" y1="135.6" x2="403.3" y2="184.7"/>
<line class="h" x1="405.0" y1="143.1" x2="405.0" y2="184.7"/>
<line class="h" x1="409.5" y1="156.5" x2="409.5" y2="184.5"/>
<line class="h" x1="413.1" y1="146.9" x2="413.1" y2="184.4"/>
<line class="h" x1="418.5" y1="159.4" x2="418.5" y2="184.3"/>
<line class="h" x1="420.4" y1="161.1" x2="420.4" y2="184.2"/>
<line class="h" x1="426.8" y1="163.6" x2="426.8" y2="184.0"/>
<line class="h" x1="430.2" y1="166.1" x2="430.2" y2="183.9"/>
<line class="h" x1="436.6" y1="153.8" x2="436.6" y2="183.7"/>
<line class="h" x1="444.0" y1="164.7" x2="444.0" y2="183.5"/>
<line class="h" x1="447.0" y1="167.9" x2="447.0" y2="183.4"/>
<line class="h" x1="448.9" y1="167.8" x2="448.9" y2="183.4"/>
<line class="h" x1="453.6" y1="168.0" x2="453.6" y2="183.3"/>
<line class="h" x1="457.3" y1="167.7" x2="457.3" y2="183.2"/>
<line class="h" x1="461.2" y1="166.2" x2="461.2" y2="183.1"/>
<line class="h" x1="467.9" y1="161.7" x2="467.9" y2="182.9"/>
<line class="h" x1="472.5" y1="158.7" x2="472.5" y2="182.8"/>
<line class="h" x1="475.4" y1="154.5" x2="475.4" y2="182.7"/>
<line class="h" x1="479.3" y1="158.7" x2="479.3" y2="182.6"/>
<line class="h" x1="484.3" y1="158.7" x2="484.3" y2="182.4"/>
<line class="h" x1="490.9" y1="156.2" x2="490.9" y2="182.2"/>
<line class="h" x1="497.0" y1="161.1" x2="497.0" y2="182.1"/>
<line class="h" x1="502.5" y1="163.6" x2="502.5" y2="182.0"/>
<line class="h" x1="508.1" y1="156.2" x2="508.1" y2="181.9"/>
<line class="h" x1="516.2" y1="153.8" x2="516.2" y2="181.7"/>
<line class="h" x1="520.8" y1="156.6" x2="520.8" y2="181.6"/>
<line class="h" x1="522.3" y1="158.1" x2="522.3" y2="181.6"/>
<line class="h" x1="527.0" y1="163.4" x2="527.0" y2="181.5"/>
<line class="h" x1="530.2" y1="160.9" x2="530.2" y2="181.5"/>
<line class="h" x1="537.5" y1="163.1" x2="537.5" y2="181.3"/>
<line class="h" x1="543.5" y1="158.3" x2="543.5" y2="181.2"/>
<line class="h" x1="544.3" y1="159.8" x2="544.3" y2="181.2"/>
<line class="h" x1="545.0" y1="159.4" x2="545.0" y2="181.2"/>
<line class="h" x1="545.8" y1="159.0" x2="545.8" y2="181.2"/>
<line class="h" x1="550.5" y1="156.7" x2="550.5" y2="181.1"/>
<line class="h" x1="552.1" y1="153.5" x2="552.1" y2="181.1"/>
<line class="h" x1="553.6" y1="152.9" x2="553.6" y2="181.0"/>
<line class="h" x1="555.2" y1="153.5" x2="555.2" y2="181.0"/>
<line class="h" x1="557.6" y1="148.3" x2="557.6" y2="180.9"/>
<line class="h" x1="559.1" y1="139.3" x2="559.1" y2="180.9"/>
<line class="h" x1="561.5" y1="145.8" x2="561.5" y2="180.8"/>
<line class="h" x1="564.6" y1="152.4" x2="564.6" y2="180.7"/>
<line class="h" x1="565.6" y1="154.2" x2="565.6" y2="180.7"/>
<line class="h" x1="566.6" y1="155.3" x2="566.6" y2="180.7"/>
<line class="h" x1="567.5" y1="155.7" x2="567.5" y2="180.7"/>
<line class="h" x1="568.5" y1="155.5" x2="568.5" y2="180.6"/>
<line class="h" x1="575.6" y1="152.2" x2="575.6" y2="180.5"/>
<line class="h" x1="577.9" y1="150.7" x2="577.9" y2="180.4"/>
<line class="h" x1="578.9" y1="150.2" x2="578.9" y2="180.4"/>
<line class="h" x1="580.0" y1="149.7" x2="580.0" y2="180.3"/>
<line class="h" x1="581.0" y1="149.2" x2="581.0" y2="180.3"/>
<line class="h" x1="583.4" y1="146.2" x2="583.4" y2="180.2"/>
<line class="h" x1="584.9" y1="145.0" x2="584.9" y2="180.2"/>
<line class="h" x1="587.3" y1="139.6" x2="587.3" y2="180.1"/>
<line class="h" x1="589.6" y1="145.3" x2="589.6" y2="180.1"/>
<line class="h" x1="592.0" y1="147.4" x2="592.0" y2="180.0"/>
<line class="h" x1="592.8" y1="146.6" x2="592.8" y2="180.0"/>
<line class="h" x1="593.6" y1="146.1" x2="593.6" y2="180.0"/>
<line class="h" x1="595.9" y1="144.7" x2="595.9" y2="179.9"/>
<line class="h" x1="598.2" y1="142.3" x2="598.2" y2="179.8"/>
<line class="h" x1="600.2" y1="140.7" x2="600.2" y2="179.8"/>
<line class="h" x1="604.6" y1="136.6" x2="604.6" y2="179.7"/>
<line class="h" x1="608.6" y1="133.3" x2="608.6" y2="179.6"/>
<line class="h" x1="614.8" y1="127.3" x2="614.8" y2="179.4"/>
<line class="h" x1="615.5" y1="126.9" x2="615.5" y2="179.4"/>
<line class="h" x1="616.2" y1="126.6" x2="616.2" y2="179.4"/>
<line class="h" x1="617.7" y1="127.1" x2="617.7" y2="179.4"/>
<line class="h" x1="618.4" y1="127.3" x2="618.4" y2="179.4"/>
<line class="h" x1="619.1" y1="126.8" x2="619.1" y2="179.3"/>
<line class="h" x1="619.9" y1="118.1" x2="619.9" y2="179.3"/>
<line class="h" x1="620.6" y1="113.5" x2="620.6" y2="179.3"/>
<line class="h" x1="623.5" y1="131.3" x2="623.5" y2="179.2"/>
<line class="h" x1="625.0" y1="133.5" x2="625.0" y2="179.2"/>
<line class="h" x1="628.2" y1="140.4" x2="628.2" y2="179.1"/>
<line class="h" x1="651.2" y1="162.7" x2="651.2" y2="178.6"/>
<path class="t" d="M24.2,376.6 L24.9,377.0 L26.0,381.5 L27.4,390.9 L28.7,401.7 L30.1,409.7 L31.8,413.1 L33.4,413.5 L35.5,411.1 L37.5,408.7 L40.2,407.0 L42.8,405.0 L44.2,403.0 L45.1,399.0 L45.8,383.5 L46.5,386.9 L47.3,390.9 L48.2,388.2 L49.3,388.9 L50.0,392.3 L50.6,370.0 L51.4,340.0 L52.1,325.0 L52.8,340.0 L53.6,375.0 L54.2,385.0 L54.7,387.6 L56.0,386.2 L57.6,385.5 L59.0,384.2 L60.3,373.4 L60.8,367.7 L61.4,368.5 L62.3,374.8 L63.3,383.5 L64.6,386.2 L65.7,388.2 L67.0,384.9 L68.4,386.9 L69.8,390.2 L71.6,388.4 L73.4,391.0 L75.2,385.7 L77.0,386.2 L78.7,386.9 L82.3,388.7 L85.9,390.5 L88.6,391.0 L91.3,391.6 L94.5,390.5 L96.7,385.1 L98.4,387.5 L100.6,389.8 L102.9,388.0 L104.7,387.5 L106.5,388.4 L108.3,375.8 L109.6,363.3 L110.5,357.9 L111.3,363.3 L112.4,369.6 L113.7,371.3 L114.9,379.4 L116.4,384.8 L117.8,381.2 L119.2,377.6 L120.3,381.2 L121.7,387.5 L123.5,386.9 L125.3,386.4 L127.0,386.6 L128.4,388.6 L129.2,373.5 L129.8,300.0 L130.5,243.6 L131.2,300.0 L132.0,340.0 L133.0,365.1 L134.2,380.2 L135.4,385.2 L136.7,383.9 L138.4,381.9 L140.1,384.4 L141.8,388.6 L143.1,378.5 L144.3,374.4 L145.4,378.5 L146.8,386.9 L148.5,390.3 L150.5,388.9 L152.1,389.9 L154.3,392.8 L156.0,392.0 L158.5,388.9 L160.2,390.3 L161.9,388.6 L163.9,390.3 L166.1,389.4 L167.7,378.5 L169.4,369.3 L170.6,375.2 L171.9,385.2 L173.6,388.3 L175.3,388.6 L177.0,390.3 L179.5,390.3 L181.1,389.4 L183.6,390.9 L185.4,388.7 L187.5,385.9 L189.3,387.7 L191.1,389.1 L192.9,382.8 L194.7,376.2 L196.5,381.9 L197.9,387.0 L200.1,389.1 L201.9,384.6 L203.3,382.3 L204.7,385.5 L206.5,389.1 L208.7,390.5 L210.1,380.2 L211.1,340.0 L212.0,303.3 L212.9,340.0 L214.0,360.0 L214.9,365.8 L216.7,380.2 L218.5,382.8 L219.8,365.8 L220.8,345.2 L221.9,365.8 L223.0,380.2 L224.8,384.6 L226.9,386.4 L229.3,387.0 L231.6,386.4 L233.7,383.7 L235.9,374.8 L236.8,330.0 L237.6,277.0 L238.4,330.0 L239.2,355.0 L240.0,370.3 L241.4,377.4 L243.1,368.3 L244.1,358.3 L245.1,368.3 L246.7,376.4 L248.1,373.4 L249.5,375.4 L251.1,378.4 L252.7,364.3 L254.1,350.2 L255.5,364.3 L257.1,373.4 L258.8,374.8 L260.2,376.4 L261.6,375.4 L262.8,360.3 L263.9,320.0 L264.8,302.0 L265.6,325.0 L266.2,340.1 L267.6,360.3 L268.6,338.1 L269.6,360.3 L271.2,368.3 L273.3,369.3 L275.3,368.3 L277.3,366.7 L280.3,365.3 L282.3,356.2 L283.3,352.2 L285.3,356.5 L286.4,356.0 L287.5,351.1 L288.6,353.3 L290.4,350.6 L291.8,355.1 L293.1,358.3 L294.3,357.2 L295.7,361.3 L297.5,364.9 L299.3,367.6 L301.1,369.0 L302.9,372.6 L305.1,373.9 L306.1,370.3 L306.9,374.8 L308.3,376.9 L310.1,378.0 L311.9,379.3 L313.7,380.5 L315.4,381.9 L317.2,382.3 L319.4,381.9 L320.8,383.4 L323.5,386.4 L327.1,389.1 L330.7,391.8 L334.3,394.1 L337.8,396.3 L341.4,398.4 L343.2,399.5"/>
<path class="t" d="M31.8,413.1 L36.1,412.4 L70.0,411.7 L128.0,409.0 L185.0,406.2 L240.0,403.4 L295.0,400.5 L343.2,399.5"/>
<line class="h" x1="46.2" y1="385.4" x2="46.2" y2="412.2"/>
<line class="h" x1="48.2" y1="388.2" x2="48.2" y2="412.2"/>
<line class="h" x1="49.8" y1="391.3" x2="49.8" y2="412.1"/>
<line class="h" x1="54.3" y1="385.5" x2="54.3" y2="412.0"/>
<line class="h" x1="55.2" y1="387.1" x2="55.2" y2="412.0"/>
<line class="h" x1="56.3" y1="386.1" x2="56.3" y2="412.0"/>
<line class="h" x1="57.4" y1="385.6" x2="57.4" y2="412.0"/>
<line class="h" x1="59.0" y1="384.2" x2="59.0" y2="411.9"/>
<line class="h" x1="62.7" y1="378.3" x2="62.7" y2="411.9"/>
<line class="h" x1="64.4" y1="385.8" x2="64.4" y2="411.8"/>
<line class="h" x1="66.4" y1="386.4" x2="66.4" y2="411.8"/>
<line class="h" x1="68.4" y1="386.9" x2="68.4" y2="411.7"/>
<line class="h" x1="69.4" y1="389.3" x2="69.4" y2="411.7"/>
<line class="h" x1="73.4" y1="391.0" x2="73.4" y2="411.5"/>
<line class="h" x1="76.1" y1="385.9" x2="76.1" y2="411.4"/>
<line class="h" x1="85.9" y1="390.5" x2="85.9" y2="411.0"/>
<line class="h" x1="90.9" y1="391.5" x2="90.9" y2="410.7"/>
<line class="h" x1="94.5" y1="390.5" x2="94.5" y2="410.6"/>
<line class="h" x1="101.7" y1="388.9" x2="101.7" y2="410.2"/>
<line class="h" x1="107.0" y1="384.9" x2="107.0" y2="410.0"/>
<line class="h" x1="112.4" y1="369.6" x2="112.4" y2="409.7"/>
<line class="h" x1="116.4" y1="384.8" x2="116.4" y2="409.5"/>
<line class="h" x1="121.7" y1="387.5" x2="121.7" y2="409.3"/>
<line class="h" x1="125.0" y1="386.5" x2="125.0" y2="409.1"/>
<line class="h" x1="125.8" y1="386.5" x2="125.8" y2="409.1"/>
<line class="h" x1="128.4" y1="388.6" x2="128.4" y2="409.0"/>
<line class="h" x1="135.4" y1="385.2" x2="135.4" y2="408.6"/>
<line class="h" x1="141.8" y1="388.6" x2="141.8" y2="408.3"/>
<line class="h" x1="148.5" y1="390.3" x2="148.5" y2="408.0"/>
<line class="h" x1="154.3" y1="392.8" x2="154.3" y2="407.7"/>
<line class="h" x1="160.2" y1="390.3" x2="160.2" y2="407.4"/>
<line class="h" x1="164.4" y1="390.1" x2="164.4" y2="407.2"/>
<line class="h" x1="172.8" y1="386.8" x2="172.8" y2="406.8"/>
<line class="h" x1="178.6" y1="390.3" x2="178.6" y2="406.5"/>
<line class="h" x1="183.7" y1="390.8" x2="183.7" y2="406.3"/>
<line class="h" x1="184.5" y1="389.8" x2="184.5" y2="406.2"/>
<line class="h" x1="190.4" y1="388.6" x2="190.4" y2="405.9"/>
<line class="h" x1="191.6" y1="387.4" x2="191.6" y2="405.9"/>
<line class="h" x1="201.1" y1="386.6" x2="201.1" y2="405.4"/>
<line class="h" x1="209.0" y1="388.3" x2="209.0" y2="405.0"/>
<line class="h" x1="218.0" y1="382.1" x2="218.0" y2="404.5"/>
<line class="h" x1="226.2" y1="385.8" x2="226.2" y2="404.1"/>
<line class="h" x1="230.2" y1="386.8" x2="230.2" y2="403.9"/>
<line class="h" x1="241.4" y1="377.4" x2="241.4" y2="403.3"/>
<line class="h" x1="246.7" y1="376.4" x2="246.7" y2="403.0"/>
<line class="h" x1="249.5" y1="375.4" x2="249.5" y2="402.9"/>
<line class="h" x1="251.1" y1="378.4" x2="251.1" y2="402.8"/>
<line class="h" x1="257.1" y1="373.4" x2="257.1" y2="402.5"/>
<line class="h" x1="260.2" y1="376.4" x2="260.2" y2="402.3"/>
<line class="h" x1="267.2" y1="354.5" x2="267.2" y2="402.0"/>
<line class="h" x1="272.2" y1="368.8" x2="272.2" y2="401.7"/>
<line class="h" x1="274.9" y1="368.5" x2="274.9" y2="401.6"/>
<line class="h" x1="276.0" y1="367.7" x2="276.0" y2="401.5"/>
<line class="h" x1="277.0" y1="366.9" x2="277.0" y2="401.4"/>
<line class="h" x1="278.0" y1="366.4" x2="278.0" y2="401.4"/>
<line class="h" x1="279.0" y1="365.9" x2="279.0" y2="401.3"/>
<line class="h" x1="280.0" y1="365.4" x2="280.0" y2="401.3"/>
<line class="h" x1="281.0" y1="362.1" x2="281.0" y2="401.2"/>
<line class="h" x1="284.3" y1="354.4" x2="284.3" y2="401.1"/>
<line class="h" x1="285.0" y1="355.9" x2="285.0" y2="401.0"/>
<line class="h" x1="286.5" y1="355.6" x2="286.5" y2="400.9"/>
<line class="h" x1="287.7" y1="351.5" x2="287.7" y2="400.9"/>
<line class="h" x1="289.5" y1="352.0" x2="289.5" y2="400.8"/>
<line class="h" x1="291.3" y1="353.5" x2="291.3" y2="400.7"/>
<line class="h" x1="293.6" y1="357.8" x2="293.6" y2="400.6"/>
<line class="h" x1="294.9" y1="359.0" x2="294.9" y2="400.5"/>
<line class="h" x1="297.9" y1="365.5" x2="297.9" y2="400.4"/>
<line class="h" x1="299.3" y1="367.6" x2="299.3" y2="400.4"/>
<line class="h" x1="302.9" y1="372.6" x2="302.9" y2="400.3"/>
<line class="h" x1="304.3" y1="373.4" x2="304.3" y2="400.3"/>
<line class="h" x1="306.9" y1="374.8" x2="306.9" y2="400.3"/>
<line class="h" x1="308.3" y1="376.9" x2="308.3" y2="400.2"/>
<line class="h" x1="310.1" y1="378.0" x2="310.1" y2="400.2"/>
<line class="h" x1="311.5" y1="379.0" x2="311.5" y2="400.2"/>
<line class="h" x1="312.8" y1="379.9" x2="312.8" y2="400.1"/>
<line class="h" x1="313.7" y1="380.5" x2="313.7" y2="400.1"/>
<line class="h" x1="315.4" y1="381.9" x2="315.4" y2="400.1"/>
<line class="h" x1="317.2" y1="382.3" x2="317.2" y2="400.0"/>
<line class="h" x1="318.7" y1="382.0" x2="318.7" y2="400.0"/>
<path class="t" d="M363.3,407.2 L370.7,409.0 L380.6,411.3 L382.4,410.8 L383.3,393.7 L383.8,380.8 L384.7,393.7 L386.0,397.3 L387.2,393.7 L388.3,387.5 L389.2,366.9 L389.8,320.0 L390.2,285.2 L390.7,320.0 L391.3,345.0 L391.9,363.3 L393.1,378.5 L394.0,382.1 L394.9,370.4 L396.2,355.2 L397.3,366.9 L398.5,380.3 L399.8,382.1 L401.2,376.7 L402.5,381.2 L403.3,386.6 L404.4,372.2 L405.7,362.9 L406.9,370.4 L408.4,378.5 L410.2,383.9 L411.9,382.6 L413.7,383.3 L415.5,380.3 L416.6,376.7 L417.7,383.0 L419.5,391.9 L420.7,391.0 L422.2,387.5 L423.6,390.2 L425.4,392.8 L427.2,393.7 L429.0,393.4 L431.1,391.6 L432.9,391.0 L435.1,390.5 L436.5,391.9 L437.9,386.6 L439.7,377.6 L441.0,380.3 L442.2,387.5 L443.7,392.8 L445.1,394.6 L446.9,383.0 L448.7,374.9 L449.9,380.3 L451.2,387.5 L453.0,393.7 L454.8,394.6 L457.1,393.7 L459.8,392.8 L462.5,391.0 L463.7,386.6 L465.2,382.1 L466.6,384.8 L468.4,376.7 L470.2,378.5 L471.8,386.4 L473.2,388.2 L475.4,381.6 L477.2,385.5 L479.0,391.8 L480.7,392.3 L482.9,392.7 L485.2,392.3 L487.0,390.5 L488.8,391.8 L490.1,383.7 L491.1,320.0 L492.2,248.5 L493.2,310.0 L494.2,345.0 L495.1,365.8 L496.5,381.9 L498.3,385.9 L499.6,385.2 L500.8,390.0 L502.2,389.1 L503.7,378.4 L505.5,368.5 L506.7,374.8 L508.0,387.3 L509.4,386.4 L510.8,384.6 L512.6,387.7 L514.4,387.3 L515.7,385.5 L516.9,389.1 L518.7,392.7 L521.0,392.3 L523.4,391.3 L525.5,393.6 L527.3,392.7 L528.7,393.9 L530.4,392.9 L532.4,394.7 L534.8,394.7 L536.1,389.7 L537.3,361.5 L538.5,311.1 L539.8,349.2 L541.0,378.7 L542.2,386.1 L543.4,383.6 L544.7,349.2 L545.5,290.0 L546.2,244.0 L547.0,290.0 L547.9,320.0 L549.1,349.2 L550.1,381.1 L551.6,387.3 L552.8,383.6 L554.0,387.3 L555.7,392.2 L558.2,392.9 L560.7,391.0 L561.9,388.5 L563.1,391.0 L564.8,390.5 L566.8,392.2 L568.8,391.5 L570.5,393.4 L572.3,393.2 L573.0,300.0 L573.5,234.0 L577.1,234.0 L577.5,290.0 L578.2,309.0 L579.1,305.5 L579.9,322.0 L580.7,352.0 L581.5,380.0 L582.5,393.5 L583.0,394.0 L584.5,394.0 L585.8,390.1 L586.9,372.9 L587.7,390.1 L589.2,391.7 L590.8,393.3 L593.9,392.5 L597.1,391.4 L600.2,392.0 L603.3,392.5 L605.7,391.7 L607.2,390.1 L608.0,386.7 L608.8,390.1 L611.2,392.5 L613.5,391.7 L615.9,390.9 L617.4,388.6 L618.4,376.0 L619.0,365.1 L619.8,377.6 L620.9,386.2 L622.1,390.1 L622.8,390.3 L623.6,386.2 L624.1,373.8 L624.7,386.2 L625.8,388.4 L626.5,391.3 L628.0,393.7 L631.6,394.9 L636.0,395.6 L641.8,397.1 L647.6,398.1 L652.7,399.0 L656.4,400.4 L662.2,403.3 L668.0,405.8 L673.8,406.8"/>
<path class="t" d="M380.6,411.3 L420.0,408.1 L475.0,402.7 L530.0,399.0 L573.0,394.6 L600.0,394.5 L628.0,395.6"/>
<line class="h" x1="382.9" y1="401.3" x2="382.9" y2="411.1"/>
<line class="h" x1="384.2" y1="386.5" x2="384.2" y2="411.0"/>
<line class="h" x1="385.1" y1="394.8" x2="385.1" y2="410.9"/>
<line class="h" x1="386.0" y1="397.3" x2="386.0" y2="410.9"/>
<line class="h" x1="386.9" y1="394.6" x2="386.9" y2="410.8"/>
<line class="h" x1="387.8" y1="390.3" x2="387.8" y2="410.7"/>
<line class="h" x1="393.1" y1="378.5" x2="393.1" y2="410.3"/>
<line class="h" x1="398.5" y1="380.3" x2="398.5" y2="409.8"/>
<line class="h" x1="403.3" y1="386.6" x2="403.3" y2="409.5"/>
<line class="h" x1="410.2" y1="383.9" x2="410.2" y2="408.9"/>
<line class="h" x1="412.8" y1="383.0" x2="412.8" y2="408.7"/>
<line class="h" x1="413.7" y1="383.3" x2="413.7" y2="408.6"/>
<line class="h" x1="414.6" y1="381.8" x2="414.6" y2="408.5"/>
<line class="h" x1="419.5" y1="391.9" x2="419.5" y2="408.1"/>
<line class="h" x1="424.9" y1="392.1" x2="424.9" y2="407.6"/>
<line class="h" x1="428.4" y1="393.5" x2="428.4" y2="407.3"/>
<line class="h" x1="433.8" y1="390.8" x2="433.8" y2="406.7"/>
<line class="h" x1="436.5" y1="391.9" x2="436.5" y2="406.5"/>
<line class="h" x1="445.1" y1="394.6" x2="445.1" y2="405.6"/>
<line class="h" x1="453.5" y1="393.9" x2="453.5" y2="404.8"/>
<line class="h" x1="456.2" y1="394.1" x2="456.2" y2="404.5"/>
<line class="h" x1="463.0" y1="389.2" x2="463.0" y2="403.9"/>
<line class="h" x1="467.0" y1="383.0" x2="467.0" y2="403.5"/>
<line class="h" x1="472.3" y1="387.0" x2="472.3" y2="403.0"/>
<line class="h" x1="472.7" y1="387.6" x2="472.7" y2="402.9"/>
<line class="h" x1="479.9" y1="392.1" x2="479.9" y2="402.4"/>
<line class="h" x1="484.3" y1="392.5" x2="484.3" y2="402.1"/>
<line class="h" x1="489.7" y1="386.2" x2="489.7" y2="401.7"/>
<line class="h" x1="498.3" y1="385.9" x2="498.3" y2="401.1"/>
<line class="h" x1="502.2" y1="389.1" x2="502.2" y2="400.9"/>
<line class="h" x1="508.5" y1="387.0" x2="508.5" y2="400.4"/>
<line class="h" x1="512.1" y1="386.8" x2="512.1" y2="400.2"/>
<line class="h" x1="513.9" y1="387.4" x2="513.9" y2="400.1"/>
<line class="h" x1="519.3" y1="392.6" x2="519.3" y2="399.7"/>
<line class="h" x1="523.7" y1="391.6" x2="523.7" y2="399.4"/>
<line class="h" x1="527.3" y1="392.7" x2="527.3" y2="399.2"/>
<line class="h" x1="536.0" y1="390.1" x2="536.0" y2="398.4"/>
<line class="h" x1="542.2" y1="386.1" x2="542.2" y2="397.8"/>
<line class="h" x1="550.1" y1="381.1" x2="550.1" y2="396.9"/>
<line class="h" x1="552.8" y1="383.6" x2="552.8" y2="396.7"/>
<line class="h" x1="555.7" y1="392.2" x2="555.7" y2="396.4"/>
<line class="h" x1="560.7" y1="391.0" x2="560.7" y2="395.9"/>
<line class="h" x1="563.1" y1="391.0" x2="563.1" y2="395.6"/>
<line class="h" x1="566.8" y1="392.2" x2="566.8" y2="395.2"/>
<line class="h" x1="570.5" y1="393.4" x2="570.5" y2="394.9"/>
<line class="h" x1="586.1" y1="385.4" x2="586.1" y2="394.6"/>
<line class="h" x1="587.7" y1="390.1" x2="587.7" y2="394.5"/>
<line class="h" x1="590.0" y1="392.5" x2="590.0" y2="394.5"/>
<line class="h" x1="595.5" y1="391.9" x2="595.5" y2="394.5"/>
<line class="h" x1="603.3" y1="392.5" x2="603.3" y2="394.6"/>
<line class="h" x1="604.9" y1="392.0" x2="604.9" y2="394.7"/>
<line class="h" x1="607.2" y1="390.1" x2="607.2" y2="394.8"/>
<line class="h" x1="608.8" y1="390.1" x2="608.8" y2="394.8"/>
<line class="h" x1="615.1" y1="391.2" x2="615.1" y2="395.1"/>
<line class="h" x1="617.4" y1="388.6" x2="617.4" y2="395.2"/>
<line class="h" x1="619.0" y1="365.1" x2="619.0" y2="395.2"/>
<line class="h" x1="620.5" y1="383.1" x2="620.5" y2="395.3"/>
<line class="h" x1="622.1" y1="390.1" x2="622.1" y2="395.4"/>
<line class="h" x1="625.2" y1="387.2" x2="625.2" y2="395.5"/>
</svg>
</body></html>
